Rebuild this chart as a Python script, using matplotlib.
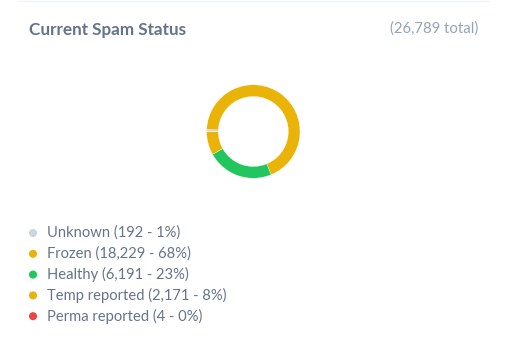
import matplotlib
matplotlib.use("Agg")
import matplotlib.pyplot as plt

# Spam status breakdown
labels = ["Unknown", "Frozen", "Healthy", "Temp reported", "Perma reported"]
counts = [192, 18229, 6191, 2171, 4]
percents = [1, 68, 23, 8, 0]
colors = ["#cbd5e1", "#eab308", "#22c55e", "#eab308", "#ef4444"]
total = 26789

plt.rcParams["font.family"] = ["Lato", "DejaVu Sans"]

W, H = 507, 340
fig = plt.figure(figsize=(W / 100, H / 100), dpi=100)

# thin card border line at the top
line_ax = fig.add_axes([0, 0, 1, 1])
line_ax.set_xlim(0, W)
line_ax.set_ylim(H, 0)
line_ax.axis("off")
line_ax.plot([17, 490], [1, 1], color="#f1f5f9", lw=1)

fig.text(29 / W, 1 - 30 / H, "Current Spam Status", fontsize=12.3, fontweight="bold",
         color="#64748b", va="center", ha="left")
fig.text(478 / W, 1 - 29 / H, f"({total:,} total)", fontsize=10.7, color="#94a3b8",
         va="center", ha="right")

# donut
cx, cy, r = 253.3, 131.5, 46.7
ax = fig.add_axes([(cx - r) / W, 1 - (cy + r) / H, 2 * r / W, 2 * r / H])
ax.pie(counts, colors=colors, startangle=180, counterclock=False, radius=1,
       wedgeprops=dict(width=0.25, edgecolor="white", linewidth=0.2))
ax.set_xlim(-1, 1)
ax.set_ylim(-1, 1)
ax.set_aspect("equal")
ax.axis("off")

# legend
for i, (lab, c, p, col) in enumerate(zip(labels, counts, percents, colors)):
    y = 233 + i * 20.8
    line_ax.scatter([33], [y], s=34, color=col, edgecolors="none")
    line_ax.text(47, y, f"{lab} ({c:,} - {p}%)", fontsize=10.6, color="#64748b",
                 va="center", ha="left")

fig.savefig("out.png", dpi=100)
